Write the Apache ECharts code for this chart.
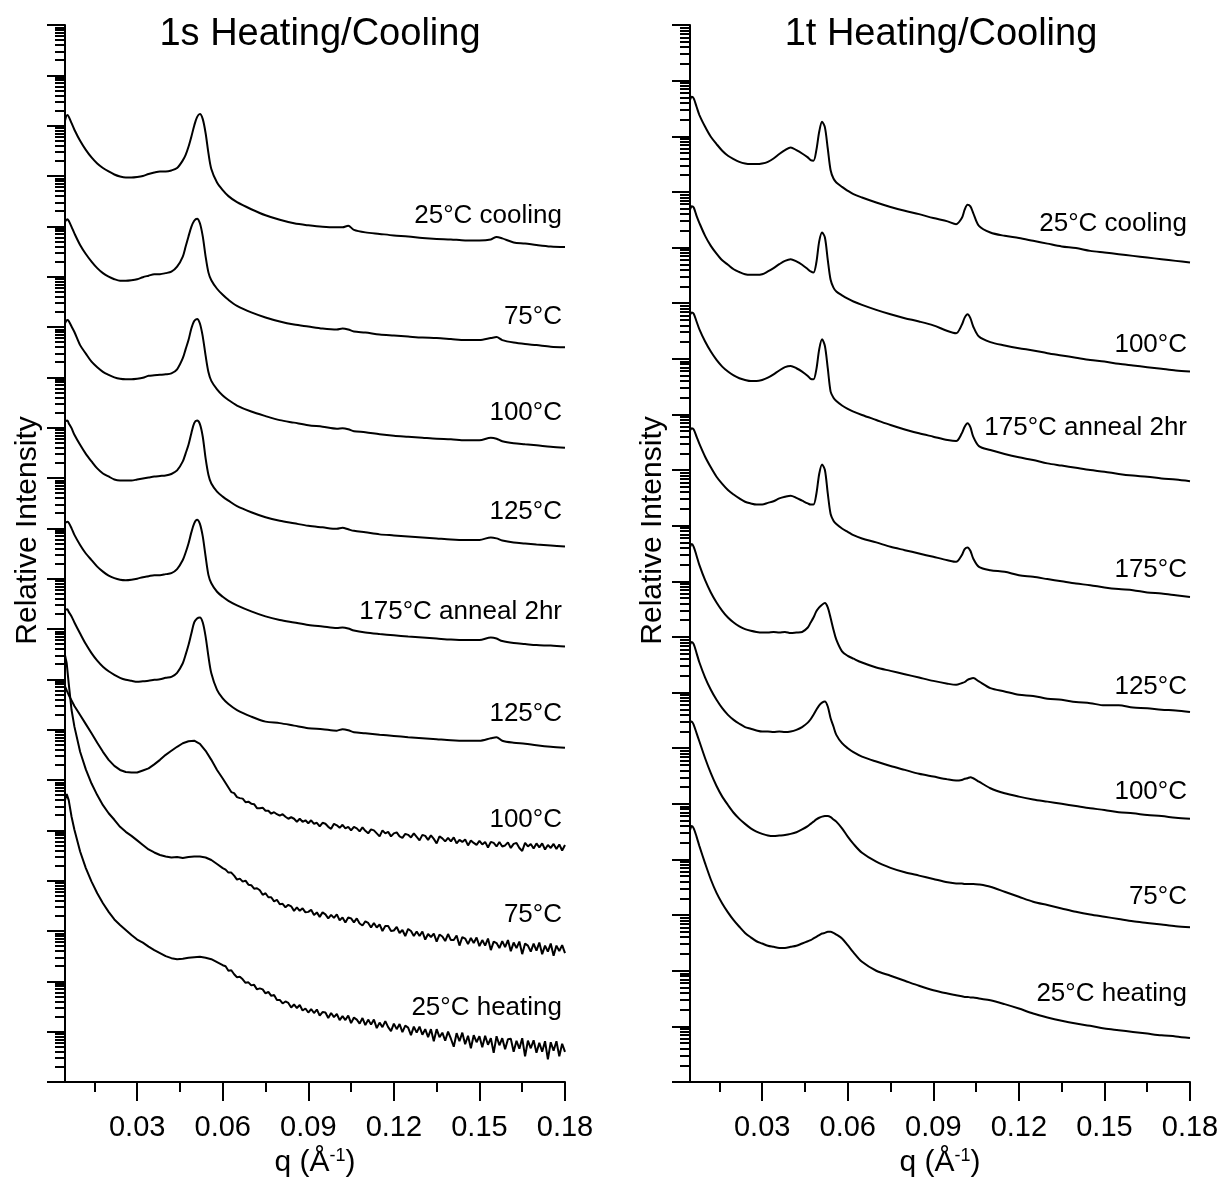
<!DOCTYPE html>
<html>
<head>
<meta charset="utf-8">
<title>1s / 1t Heating/Cooling</title>
<script src="https://cdn.jsdelivr.net/npm/echarts@6/dist/echarts.min.js"></script>
<style>
  html, body { margin: 0; padding: 0; background: #fff; }
  #chart { width: 1220px; height: 1179px; }
</style>
</head>
<body>
<div id="chart"></div>
<script>
// q grids, Å^-1
const qS = [0.0047, 0.0055, 0.006, 0.007, 0.008, 0.010, 0.012, 0.014, 0.016, 0.018,
  0.020, 0.022, 0.024, 0.026, 0.028, 0.030, 0.032, 0.034, 0.036, 0.038,
  0.040, 0.042, 0.044, 0.046, 0.047, 0.048, 0.049, 0.050, 0.051, 0.052,
  0.053, 0.054, 0.055, 0.056, 0.058, 0.060, 0.062, 0.065, 0.070, 0.075,
  0.080, 0.085, 0.090, 0.095, 0.100, 0.102, 0.104, 0.106, 0.110, 0.115,
  0.120, 0.125, 0.130, 0.135, 0.140, 0.145, 0.150, 0.154, 0.156, 0.158,
  0.162, 0.166, 0.170, 0.175, 0.180];
// noisy heating runs are read more finely past the peak
const qN = [0.0047, 0.0053, 0.006, 0.007, 0.008, 0.010, 0.012, 0.014, 0.016, 0.018,
  0.020, 0.022, 0.024, 0.026, 0.028, 0.030, 0.032, 0.034, 0.036, 0.038,
  0.040, 0.042, 0.044, 0.046, 0.048, 0.050, 0.052, 0.054, 0.056, 0.058,
  0.060,
  0.061, 0.062, 0.063, 0.064, 0.065, 0.066, 0.067, 0.068, 0.069, 0.070,
  0.071, 0.072, 0.073, 0.074, 0.075, 0.076, 0.077, 0.078, 0.079, 0.080,
  0.081, 0.082, 0.083, 0.084, 0.085, 0.086, 0.087, 0.088, 0.089, 0.090,
  0.091, 0.092, 0.093, 0.094, 0.095, 0.096, 0.097, 0.098, 0.099, 0.100,
  0.101, 0.102, 0.103, 0.104, 0.105, 0.106, 0.107, 0.108, 0.109, 0.110,
  0.111, 0.112, 0.113, 0.114, 0.115, 0.116, 0.117, 0.118, 0.119, 0.120,
  0.121, 0.122, 0.123, 0.124, 0.125, 0.126, 0.127, 0.128, 0.129, 0.130,
  0.131, 0.132, 0.133, 0.134, 0.135, 0.136, 0.137, 0.138, 0.139, 0.140,
  0.141, 0.142, 0.143, 0.144, 0.145, 0.146, 0.147, 0.148, 0.149, 0.150,
  0.151, 0.152, 0.153, 0.154, 0.155, 0.156, 0.157, 0.158, 0.159, 0.160,
  0.161, 0.162, 0.163, 0.164, 0.165, 0.166, 0.167, 0.168, 0.169, 0.170,
  0.171, 0.172, 0.173, 0.174, 0.175, 0.176, 0.177, 0.178, 0.179, 0.180];
const qT = [0.0047, 0.0053, 0.006, 0.007, 0.008, 0.010, 0.012, 0.014, 0.016, 0.018,
  0.020, 0.022, 0.024, 0.026, 0.028, 0.030, 0.032, 0.034, 0.036, 0.038,
  0.040, 0.042, 0.044, 0.046, 0.047, 0.048, 0.049, 0.050, 0.051, 0.052,
  0.053, 0.054, 0.055, 0.056, 0.058, 0.060, 0.062, 0.065, 0.070, 0.075,
  0.080, 0.085, 0.090, 0.095, 0.098, 0.100, 0.101, 0.102, 0.103, 0.104,
  0.106, 0.110, 0.115, 0.120, 0.125, 0.130, 0.135, 0.140, 0.145, 0.150,
  0.155, 0.160, 0.165, 0.170, 0.175, 0.180];

// 1s, log10(relative intensity), stacked top to bottom
const s_cool25 = [19.10, 19.21, 19.18, 19.05, 18.92, 18.70, 18.52, 18.37, 18.25, 18.16,
  18.09, 18.03, 17.99, 17.97, 17.97, 17.98, 18.00, 18.04, 18.07, 18.09,
  18.09, 18.11, 18.16, 18.31, 18.42, 18.58, 18.78, 19.00, 19.17, 19.23,
  19.13, 18.85, 18.45, 18.14, 17.87, 17.72, 17.60, 17.48, 17.34, 17.22,
  17.13, 17.06, 17.02, 16.99, 16.98, 16.98, 17.01, 16.93, 16.88, 16.85,
  16.82, 16.80, 16.77, 16.75, 16.74, 16.72, 16.72, 16.74, 16.79, 16.76,
  16.68, 16.66, 16.63, 16.60, 16.59];
const s_cool75 = [17.09, 17.14, 17.11, 16.99, 16.86, 16.63, 16.45, 16.30, 16.17, 16.07,
  16.00, 15.95, 15.92, 15.92, 15.93, 15.95, 15.99, 16.02, 16.05, 16.05,
  16.07, 16.10, 16.20, 16.40, 16.60, 16.80, 16.99, 17.11, 17.15, 17.06,
  16.80, 16.40, 16.08, 15.93, 15.76, 15.64, 15.54, 15.42, 15.29, 15.19,
  15.11, 15.05, 15.01, 14.97, 14.95, 14.97, 14.95, 14.91, 14.89, 14.85,
  14.83, 14.81, 14.79, 14.78, 14.76, 14.74, 14.74, 14.78, 14.80, 14.74,
  14.69, 14.66, 14.64, 14.61, 14.60];
const s_cool100 = [15.07, 15.14, 15.12, 15.01, 14.90, 14.64, 14.47, 14.31, 14.20, 14.11,
  14.05, 14.00, 13.97, 13.96, 13.96, 13.97, 13.99, 14.03, 14.04, 14.05,
  14.06, 14.08, 14.16, 14.38, 14.56, 14.74, 14.97, 15.12, 15.16, 15.07,
  14.81, 14.43, 14.10, 13.93, 13.76, 13.64, 13.55, 13.44, 13.32, 13.23,
  13.15, 13.10, 13.05, 13.02, 12.98, 12.99, 12.97, 12.93, 12.91, 12.87,
  12.84, 12.82, 12.80, 12.78, 12.77, 12.75, 12.75, 12.80, 12.78, 12.73,
  12.69, 12.67, 12.65, 12.62, 12.60];
const s_cool125 = [13.12, 13.14, 13.09, 12.99, 12.86, 12.66, 12.48, 12.33, 12.19, 12.09,
  12.03, 11.97, 11.95, 11.95, 11.95, 11.97, 11.99, 12.01, 12.03, 12.04,
  12.05, 12.08, 12.15, 12.33, 12.49, 12.66, 12.89, 13.09, 13.14, 13.07,
  12.82, 12.39, 12.06, 11.89, 11.73, 11.63, 11.55, 11.44, 11.32, 11.22,
  11.15, 11.10, 11.05, 11.02, 10.99, 11.01, 10.98, 10.95, 10.92, 10.88,
  10.86, 10.84, 10.82, 10.80, 10.78, 10.77, 10.77, 10.82, 10.80, 10.76,
  10.72, 10.70, 10.68, 10.66, 10.64];
const s_anneal175 = [11.10, 11.13, 11.11, 11.00, 10.87, 10.67, 10.50, 10.37, 10.24, 10.14,
  10.06, 10.01, 9.98, 9.97, 9.98, 10.00, 10.03, 10.05, 10.07, 10.07,
  10.09, 10.11, 10.19, 10.37, 10.52, 10.70, 10.92, 11.10, 11.17, 11.09,
  10.84, 10.44, 10.07, 9.91, 9.74, 9.64, 9.56, 9.47, 9.35, 9.25,
  9.18, 9.13, 9.08, 9.05, 9.02, 9.03, 9.01, 8.97, 8.93, 8.90,
  8.875, 8.85, 8.83, 8.81, 8.79, 8.78, 8.78, 8.83, 8.81, 8.76,
  8.72, 8.70, 8.68, 8.67, 8.65];
const s_heat125 = [9.38, 9.39, 9.34, 9.25, 9.13, 8.91, 8.70, 8.52, 8.37, 8.25,
  8.16, 8.09, 8.03, 7.99, 7.97, 7.95, 7.96, 7.97, 7.99, 8.00,
  8.03, 8.05, 8.13, 8.32, 8.49, 8.68, 8.91, 9.13, 9.21, 9.23,
  9.13, 8.85, 8.45, 8.12, 7.79, 7.62, 7.51, 7.39, 7.26, 7.16,
  7.13, 7.08, 7.03, 7.01, 6.98, 7.01, 6.99, 6.95, 6.93, 6.90,
  6.875, 6.85, 6.83, 6.81, 6.79, 6.78, 6.78, 6.83, 6.85, 6.78,
  6.74, 6.72, 6.69, 6.66, 6.64];
const s_heat100 = [7.86, 7.78, 7.69, 7.58, 7.47, 7.29, 7.11, 6.93, 6.74, 6.56,
  6.40, 6.28, 6.20, 6.16, 6.15, 6.15, 6.19, 6.23, 6.31, 6.40,
  6.50, 6.58, 6.66, 6.73, 6.77, 6.78, 6.72, 6.58, 6.40, 6.20,
  6.03,
  5.94, 5.85, 5.76, 5.74, 5.66, 5.64, 5.63, 5.56, 5.57, 5.53,
  5.52, 5.44, 5.44, 5.45, 5.39, 5.39, 5.33, 5.36, 5.32, 5.29,
  5.32, 5.27, 5.23, 5.26, 5.23, 5.17, 5.23, 5.17, 5.20, 5.14,
  5.20, 5.13, 5.15, 5.08, 5.15, 5.13, 5.07, 5.03, 5.13, 5.10,
  5.05, 5.11, 5.04, 5.07, 5.00, 5.07, 5.04, 4.98, 5.06, 4.99,
  4.94, 5.02, 5.00, 4.94, 4.88, 5.00, 4.94, 4.97, 4.88, 4.94,
  4.96, 4.88, 4.85, 4.93, 4.91, 4.86, 4.94, 4.87, 4.80, 4.91,
  4.89, 4.81, 4.90, 4.83, 4.74, 4.88, 4.84, 4.78, 4.85, 4.78,
  4.86, 4.74, 4.81, 4.77, 4.82, 4.70, 4.80, 4.75, 4.71, 4.79,
  4.72, 4.77, 4.66, 4.77, 4.75, 4.68, 4.77, 4.68, 4.70, 4.76,
  4.65, 4.73, 4.75, 4.65, 4.59, 4.75, 4.68, 4.73, 4.64, 4.74,
  4.66, 4.74, 4.62, 4.71, 4.65, 4.73, 4.63, 4.72, 4.60, 4.71];
const s_heat75 = [8.48, 8.32, 7.92, 7.39, 7.06, 6.56, 6.21, 5.93, 5.70, 5.50,
  5.34, 5.21, 5.07, 4.97, 4.89, 4.80, 4.71, 4.62, 4.56, 4.51,
  4.48, 4.46, 4.47, 4.45, 4.47, 4.48, 4.48, 4.46, 4.41, 4.33,
  4.25,
  4.22, 4.16, 4.16, 4.10, 4.02, 4.04, 3.98, 4.00, 3.92, 3.91,
  3.84, 3.85, 3.81, 3.72, 3.75, 3.67, 3.67, 3.59, 3.62, 3.53,
  3.54, 3.47, 3.52, 3.49, 3.40, 3.47, 3.40, 3.45, 3.37, 3.38,
  3.42, 3.32, 3.37, 3.28, 3.37, 3.33, 3.25, 3.32, 3.26, 3.33,
  3.21, 3.27, 3.17, 3.27, 3.25, 3.17, 3.25, 3.15, 3.11, 3.19,
  3.16, 3.07, 3.16, 3.07, 3.13, 3.00, 3.10, 3.10, 3.00, 3.01,
  3.08, 2.96, 3.02, 2.90, 3.04, 3.00, 2.90, 2.99, 2.90, 2.99,
  2.83, 2.94, 2.88, 2.95, 2.79, 2.93, 2.89, 2.80, 2.94, 2.82,
  2.82, 2.91, 2.71, 2.88, 2.85, 2.74, 2.86, 2.76, 2.87, 2.70,
  2.82, 2.71, 2.85, 2.62, 2.79, 2.76, 2.66, 2.80, 2.68, 2.82,
  2.60, 2.77, 2.66, 2.79, 2.54, 2.75, 2.71, 2.59, 2.75, 2.61,
  2.77, 2.54, 2.71, 2.59, 2.75, 2.51, 2.71, 2.60, 2.72, 2.56];
const s_heat25 = [5.60, 5.72, 5.60, 5.27, 5.01, 4.58, 4.25, 3.98, 3.75, 3.55,
  3.38, 3.23, 3.12, 3.02, 2.92, 2.83, 2.77, 2.69, 2.62, 2.56,
  2.50, 2.46, 2.44, 2.45, 2.47, 2.48, 2.49, 2.47, 2.44, 2.38,
  2.32,
  2.30, 2.21, 2.22, 2.14, 2.08, 2.09, 2.04, 1.97, 1.98, 1.92,
  1.93, 1.84, 1.86, 1.84, 1.76, 1.79, 1.71, 1.73, 1.63, 1.63,
  1.56, 1.60, 1.57, 1.48, 1.54, 1.47, 1.53, 1.42, 1.46, 1.38,
  1.45, 1.37, 1.44, 1.32, 1.39, 1.38, 1.27, 1.37, 1.29, 1.35,
  1.23, 1.31, 1.23, 1.32, 1.17, 1.28, 1.24, 1.16, 1.27, 1.13,
  1.24, 1.14, 1.24, 1.07, 1.18, 1.09, 1.21, 1.09, 1.01, 1.16,
  1.05, 1.15, 0.99, 1.12, 1.08, 0.93, 1.10, 0.98, 1.10, 0.94,
  1.05, 0.89, 1.05, 0.81, 1.05, 0.89, 0.98, 0.82, 1.00, 0.86,
  0.70, 0.97, 0.81, 0.98, 0.75, 0.92, 0.67, 0.93, 0.79, 0.91,
  0.69, 0.92, 0.74, 0.87, 0.58, 0.91, 0.73, 0.87, 0.65, 0.85,
  0.86, 0.60, 0.82, 0.66, 0.87, 0.51, 0.82, 0.67, 0.83, 0.58,
  0.78, 0.60, 0.81, 0.45, 0.79, 0.62, 0.81, 0.51, 0.76, 0.60];

// 1t, log10(relative intensity), stacked top to bottom
const t_cool25 = [17.65, 17.71, 17.68, 17.53, 17.38, 17.17, 16.99, 16.86, 16.74, 16.65,
  16.59, 16.54, 16.51, 16.50, 16.50, 16.51, 16.54, 16.60, 16.68, 16.75,
  16.80, 16.75, 16.69, 16.62, 16.57, 16.56, 16.75, 17.08, 17.26, 17.16,
  16.78, 16.39, 16.24, 16.17, 16.09, 16.02, 15.96, 15.90, 15.81, 15.73,
  15.66, 15.60, 15.53, 15.47, 15.42, 15.53, 15.68, 15.77, 15.74, 15.62,
  15.39, 15.27, 15.21, 15.17, 15.12, 15.07, 15.02, 14.99, 14.94, 14.91,
  14.88, 14.85, 14.82, 14.79, 14.76, 14.73];
const t_cool100 = [15.68, 15.74, 15.72, 15.57, 15.44, 15.21, 15.03, 14.89, 14.77, 14.69,
  14.61, 14.56, 14.52, 14.51, 14.51, 14.52, 14.57, 14.63, 14.70, 14.76,
  14.79, 14.75, 14.69, 14.61, 14.57, 14.55, 14.73, 15.11, 15.27, 15.18,
  14.78, 14.42, 14.28, 14.21, 14.14, 14.08, 14.03, 13.97, 13.88, 13.80,
  13.73, 13.67, 13.60, 13.50, 13.46, 13.61, 13.74, 13.80, 13.73, 13.58,
  13.40, 13.30, 13.24, 13.19, 13.15, 13.10, 13.06, 13.02, 12.98, 12.95,
  12.91, 12.88, 12.85, 12.82, 12.79, 12.77];
const t_anneal175 = [13.79, 13.83, 13.81, 13.67, 13.53, 13.31, 13.13, 12.98, 12.86, 12.77,
  12.70, 12.65, 12.62, 12.60, 12.60, 12.62, 12.66, 12.72, 12.79, 12.85,
  12.87, 12.83, 12.77, 12.69, 12.64, 12.63, 12.81, 13.17, 13.35, 13.23,
  12.83, 12.41, 12.30, 12.24, 12.16, 12.10, 12.05, 11.99, 11.90, 11.81,
  11.73, 11.66, 11.60, 11.54, 11.52, 11.66, 11.78, 11.84, 11.77, 11.60,
  11.43, 11.36, 11.29, 11.23, 11.18, 11.12, 11.08, 11.04, 11.00, 10.97,
  10.93, 10.90, 10.88, 10.85, 10.83, 10.80];
const t_heat175 = [11.71, 11.75, 11.73, 11.60, 11.47, 11.24, 11.05, 10.88, 10.75, 10.64,
  10.56, 10.49, 10.43, 10.40, 10.38, 10.38, 10.41, 10.44, 10.49, 10.52,
  10.54, 10.50, 10.45, 10.40, 10.38, 10.38, 10.57, 10.93, 11.10, 11.00,
  10.58, 10.21, 10.09, 10.03, 9.95, 9.89, 9.83, 9.77, 9.70, 9.62,
  9.56, 9.50, 9.44, 9.38, 9.35, 9.47, 9.58, 9.61, 9.55, 9.41,
  9.26, 9.20, 9.17, 9.11, 9.08, 9.04, 9.00, 8.96, 8.93, 8.89,
  8.86, 8.84, 8.80, 8.78, 8.75, 8.72];
const t_heat125 = [9.62, 9.67, 9.62, 9.46, 9.29, 9.02, 8.80, 8.62, 8.47, 8.35,
  8.26, 8.19, 8.14, 8.11, 8.09, 8.08, 8.08, 8.09, 8.08, 8.09,
  8.07, 8.08, 8.09, 8.17, 8.26, 8.35, 8.46, 8.53, 8.58, 8.61,
  8.53, 8.34, 8.13, 7.95, 7.74, 7.66, 7.61, 7.54, 7.45, 7.39,
  7.33, 7.27, 7.21, 7.16, 7.14, 7.17, 7.19, 7.23, 7.25, 7.26,
  7.20, 7.08, 7.02, 6.96, 6.94, 6.89, 6.87, 6.83, 6.81, 6.77,
  6.77, 6.73, 6.72, 6.69, 6.68, 6.65];
const t_heat100 = [7.86, 7.91, 7.87, 7.71, 7.54, 7.27, 7.05, 6.87, 6.72, 6.60,
  6.51, 6.44, 6.38, 6.35, 6.32, 6.30, 6.30, 6.29, 6.30, 6.29,
  6.30, 6.33, 6.38, 6.46, 6.52, 6.60, 6.69, 6.77, 6.82, 6.84,
  6.75, 6.54, 6.39, 6.24, 6.09, 6.00, 5.93, 5.85, 5.76, 5.68,
  5.61, 5.54, 5.49, 5.44, 5.42, 5.43, 5.45, 5.46, 5.48, 5.46,
  5.40, 5.28, 5.19, 5.13, 5.08, 5.04, 5.00, 4.96, 4.92, 4.89,
  4.85, 4.83, 4.80, 4.78, 4.75, 4.73];
const t_heat75 = [6.46, 6.48, 6.42, 6.27, 6.12, 5.82, 5.55, 5.32, 5.13, 4.98,
  4.84, 4.73, 4.64, 4.56, 4.50, 4.46, 4.43, 4.42, 4.43, 4.44,
  4.46, 4.49, 4.54, 4.60, 4.64, 4.68, 4.72, 4.75, 4.77, 4.78,
  4.78, 4.76, 4.72, 4.68, 4.56, 4.41, 4.28, 4.12, 3.96, 3.85,
  3.77, 3.71, 3.65, 3.59, 3.57, 3.57, 3.56, 3.56, 3.56, 3.56,
  3.55, 3.51, 3.42, 3.33, 3.24, 3.18, 3.12, 3.06, 3.01, 2.97,
  2.93, 2.89, 2.86, 2.83, 2.80, 2.78];
const t_heat25 = [4.53, 4.60, 4.56, 4.41, 4.24, 3.93, 3.64, 3.40, 3.21, 3.05,
  2.91, 2.79, 2.68, 2.60, 2.53, 2.49, 2.45, 2.43, 2.41, 2.41,
  2.43, 2.45, 2.49, 2.53, 2.55, 2.58, 2.61, 2.64, 2.67, 2.68,
  2.70, 2.70, 2.68, 2.65, 2.58, 2.46, 2.33, 2.16, 2.00, 1.91,
  1.82, 1.73, 1.65, 1.59, 1.56, 1.54, 1.53, 1.53, 1.52, 1.52,
  1.50, 1.47, 1.40, 1.32, 1.23, 1.16, 1.10, 1.05, 1.01, 0.96,
  0.93, 0.90, 0.87, 0.84, 0.82, 0.79];

// curve labels and where they sit (log10 intensity at right edge)
const sNames = ['25°C cooling', '75°C', '100°C', '125°C', '175°C anneal 2hr', '125°C', '100°C', '75°C', '25°C heating'];
const sNameY = [17.21, 15.20, 13.29, 11.33, 9.34, 7.31, 5.21, 3.32, 1.47];
const tNames = ['25°C cooling', '100°C', '175°C anneal 2hr', '175°C', '125°C', '100°C', '75°C', '25°C heating'];
const tNameY = [15.42, 13.25, 11.76, 9.20, 7.10, 5.21, 3.33, 1.58];

const qTicks = [0.03, 0.06, 0.09, 0.12, 0.15, 0.18];
const qMinorTicks = [0.015, 0.045, 0.075, 0.105, 0.135, 0.165];
const Q_MIN = 0.0047, Q_MAX = 0.18;

const FONT = '"Liberation Sans", Arial, sans-serif';
const INK = '#000';

function logMinor(decades) {
  let out = [];
  for (let n = 0; n < decades; n++) {
    for (let k = 2; k <= 9; k++) out.push(n + Math.log10(k));
  }
  return out;
}

function xAxes(g) {
  return [{
    gridIndex: g, type: 'value', position: 'bottom', min: Q_MIN, max: Q_MAX,
    axisLine: { onZero: false, lineStyle: { color: INK, width: 2 } },
    axisTick: { show: true, customValues: qTicks, length: 19, lineStyle: { color: INK, width: 2 } },
    axisLabel: { customValues: qTicks, formatter: v => v.toFixed(2), margin: 31,
      fontSize: 29, color: INK, fontFamily: FONT },
    splitLine: { show: false },
    name: '{a|q (Å}{s|-1}{a|)}', nameLocation: 'middle', nameGap: 63,
    nameTextStyle: { rich: {
      a: { fontSize: 30, fontFamily: FONT, color: INK, lineHeight: 32 },
      s: { fontSize: 18, fontFamily: FONT, color: INK, verticalAlign: 'top', lineHeight: 32 }
    } }
  }, {
    gridIndex: g, type: 'value', position: 'bottom', min: Q_MIN, max: Q_MAX,
    axisLine: { show: false, onZero: false },
    axisTick: { show: true, customValues: qMinorTicks, length: 10, lineStyle: { color: INK, width: 2 } },
    axisLabel: { show: false },
    splitLine: { show: false }
  }];
}

function yAxes(g, decades) {
  return [{
    gridIndex: g, type: 'value', position: 'left', min: 0, max: decades, interval: 1,
    axisLine: { onZero: false, lineStyle: { color: INK, width: 2 } },
    axisTick: { length: 18, lineStyle: { color: INK, width: 2 } },
    axisLabel: { show: false },
    splitLine: { show: false },
    name: 'Relative Intensity', nameLocation: 'middle', nameGap: 22,
    nameTextStyle: { fontSize: 30, fontFamily: FONT, color: INK, padding: [0, 0, 0, 46] }
  }, {
    gridIndex: g, type: 'value', position: 'left', min: 0, max: decades,
    axisLine: { show: false, onZero: false },
    axisTick: { show: true, customValues: logMinor(decades), length: 10, lineStyle: { color: INK, width: 2 } },
    axisLabel: { show: false },
    splitLine: { show: false }
  }];
}

function curve(axis, qs, vals, smooth) {
  return {
    type: 'line', xAxisIndex: axis, yAxisIndex: axis,
    data: qs.map((q, i) => [q, vals[i]]),
    showSymbol: false, symbol: 'none', smooth: smooth,
    lineStyle: { color: INK, width: 2 }
  };
}

function tags(axis, names, ys) {
  return {
    type: 'scatter', xAxisIndex: axis, yAxisIndex: axis, silent: true,
    symbolSize: 0, itemStyle: { color: INK },
    data: names.map((t, i) => ({ name: t, value: [Q_MAX, ys[i]] })),
    label: { show: true, position: 'left', distance: 3, formatter: '{b}',
      fontSize: 26, color: INK, fontFamily: FONT, opacity: 1 }
  };
}

const series = [
  curve(0, qS, s_cool25, 0.3),
  curve(0, qS, s_cool75, 0.3),
  curve(0, qS, s_cool100, 0.3),
  curve(0, qS, s_cool125, 0.3),
  curve(0, qS, s_anneal175, 0.3),
  curve(0, qS, s_heat125, 0.3),
  curve(0, qN, s_heat100, false),
  curve(0, qN, s_heat75, false),
  curve(0, qN, s_heat25, false),
  tags(0, sNames, sNameY),
  curve(2, qT, t_cool25, 0.3),
  curve(2, qT, t_cool100, 0.3),
  curve(2, qT, t_anneal175, 0.3),
  curve(2, qT, t_heat175, 0.3),
  curve(2, qT, t_heat125, 0.3),
  curve(2, qT, t_heat100, 0.3),
  curve(2, qT, t_heat75, 0.3),
  curve(2, qT, t_heat25, 0.3),
  tags(2, tNames, tNameY)
];

const chart = echarts.init(document.getElementById('chart'));
chart.setOption({
  animation: false,
  backgroundColor: '#fff',
  textStyle: { fontFamily: FONT },
  title: [
    { text: '1s Heating/Cooling', left: 315, top: 11, textAlign: 'center',
      textStyle: { fontSize: 38, fontWeight: 'normal', color: INK, fontFamily: FONT } },
    { text: '1t Heating/Cooling', left: 936, top: 11, textAlign: 'center',
      textStyle: { fontSize: 38, fontWeight: 'normal', color: INK, fontFamily: FONT } }
  ],
  grid: [
    { left: 65, top: 25, width: 500, height: 1057, outerBoundsMode: 'none' },
    { left: 690, top: 25, width: 500, height: 1057, outerBoundsMode: 'none' }
  ],
  xAxis: xAxes(0).concat(xAxes(1)),
  yAxis: yAxes(0, 21).concat(yAxes(1, 19)),
  series: series
});

// bottom axis line runs on past the left axis, as far as the long ticks
let stubs = [0, 1].map(g => {
  const p = chart.convertToPixel({ xAxisIndex: 2 * g, yAxisIndex: 2 * g }, [Q_MIN, 0]);
  return { type: 'line', shape: { x1: p[0] - 18, y1: p[1], x2: p[0], y2: p[1] },
    style: { stroke: INK, lineWidth: 2 }, z: 10 };
});
chart.setOption({ graphic: stubs });
</script>
</body>
</html>
